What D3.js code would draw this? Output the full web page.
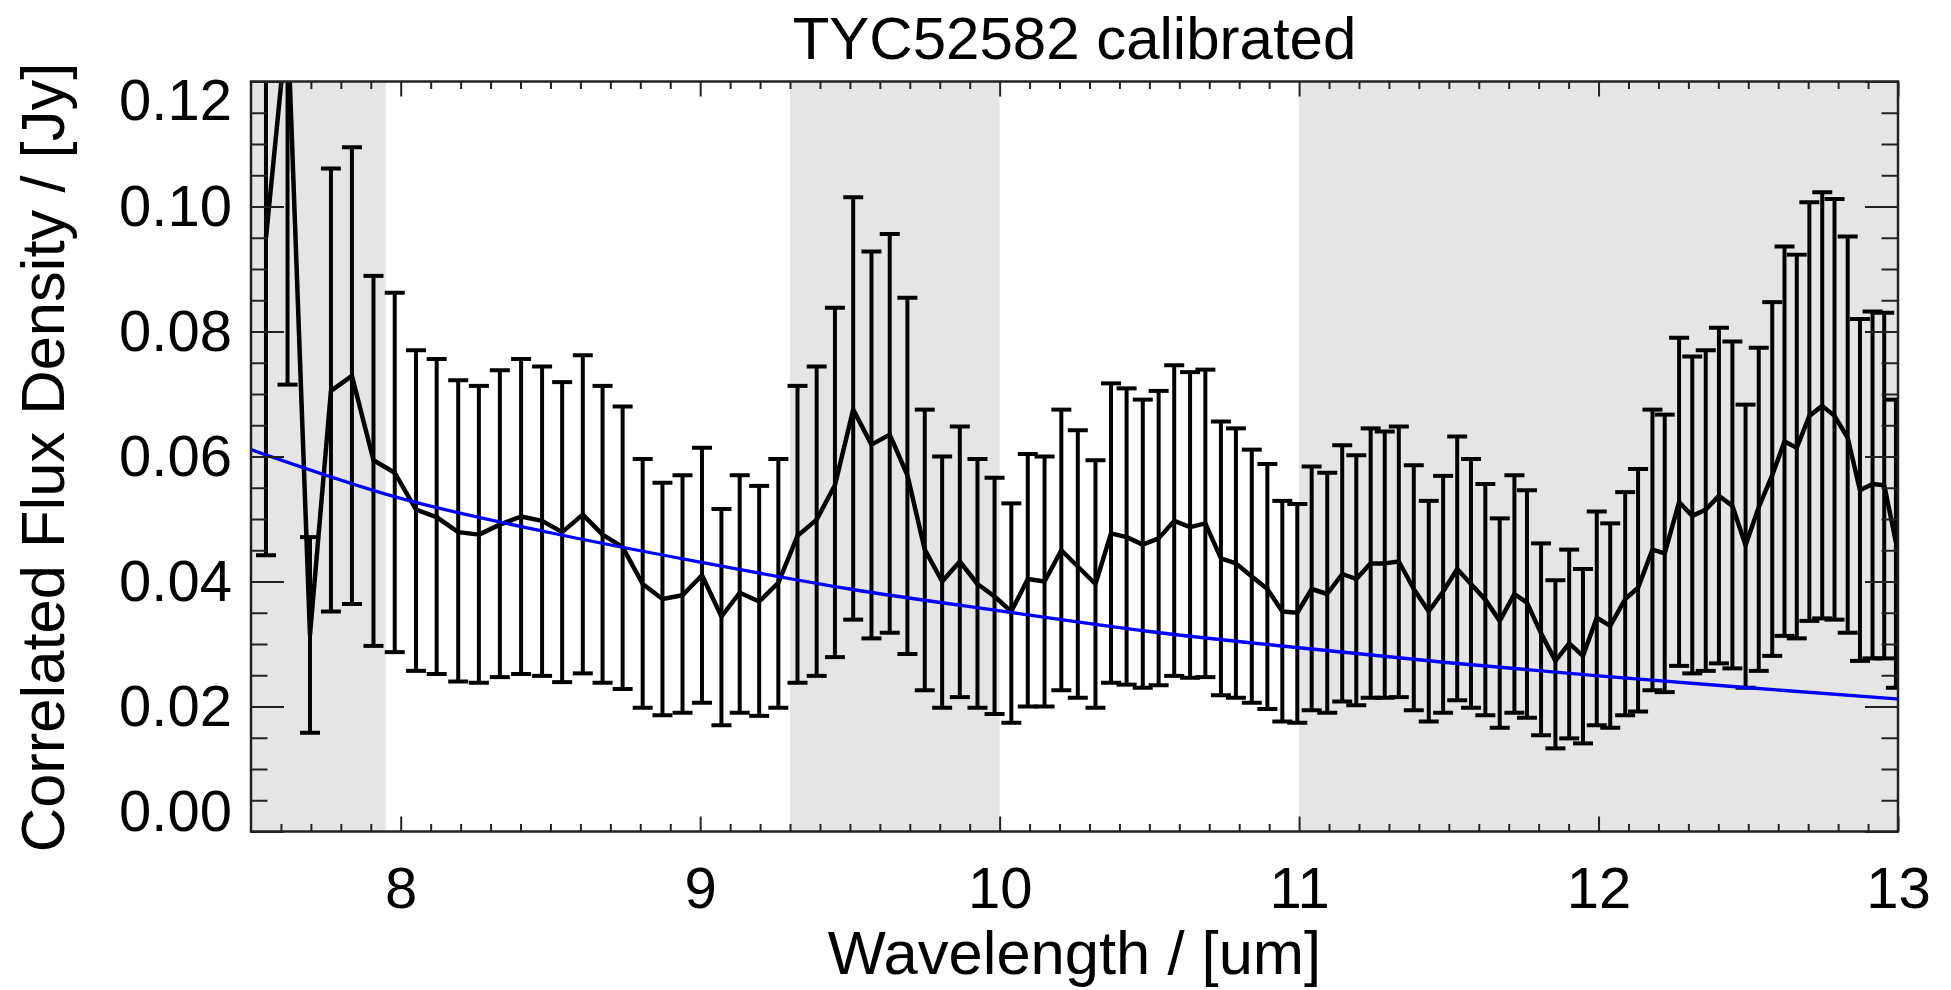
<!DOCTYPE html>
<html>
<head>
<meta charset="utf-8">
<script src="https://cdn.jsdelivr.net/npm/d3@7"></script>
<style>
  html, body { margin: 0; padding: 0; background: #fff; overflow: hidden; }
  svg { display: block; }
  text { font-family: "Liberation Sans", Arial, Helvetica, sans-serif; fill: #000; }
</style>
</head>
<body>
<div id="chart"></div>
<script>
// Spectrum values (wavelength in um, flux in Jy)
const wavelength = [7.550, 7.622, 7.697, 7.767, 7.837, 7.909, 7.980, 8.051, 8.120, 8.192,
  8.261, 8.331, 8.402, 8.472, 8.539, 8.608, 8.674, 8.741, 8.808, 8.874,
  8.941, 9.006, 9.071, 9.132, 9.197, 9.261, 9.325, 9.389, 9.450, 9.511,
  9.572, 9.633, 9.692, 9.750, 9.808, 9.867, 9.926, 9.983, 10.039, 10.094,
  10.150, 10.206, 10.261, 10.320, 10.372, 10.424, 10.478, 10.531, 10.583, 10.636,
  10.687, 10.739, 10.789, 10.842, 10.894, 10.944, 10.994, 11.042, 11.094, 11.144,
  11.191, 11.239, 11.286, 11.333, 11.383, 11.433, 11.481, 11.528, 11.574, 11.622,
  11.670, 11.719, 11.761, 11.808, 11.856, 11.902, 11.948, 11.994, 12.039, 12.089,
  12.132, 12.180, 12.221, 12.269, 12.313, 12.358, 12.402, 12.447, 12.491, 12.535,
  12.580, 12.621, 12.662, 12.704, 12.747, 12.788, 12.832, 12.873, 12.915, 12.954, 12.993];

const flux = [0.0950, 0.1300, 0.0315, 0.0705, 0.0729, 0.0594, 0.0574, 0.0515, 0.0503, 0.0479,
  0.0475, 0.0491, 0.0504, 0.0497, 0.0479, 0.0507, 0.0475, 0.0455, 0.0396, 0.0372,
  0.0378, 0.0410, 0.0344, 0.0382, 0.0368, 0.0398, 0.0473, 0.0499, 0.0554, 0.0675,
  0.0619, 0.0635, 0.0570, 0.0451, 0.0400, 0.0432, 0.0396, 0.0376, 0.0352, 0.0404,
  0.0400, 0.0450, 0.0424, 0.0396, 0.0477, 0.0471, 0.0459, 0.0469, 0.0497, 0.0487,
  0.0493, 0.0437, 0.0429, 0.0408, 0.0388, 0.0352, 0.0350, 0.0388, 0.0380, 0.0412,
  0.0404, 0.0429, 0.0429, 0.0432, 0.0388, 0.0352, 0.0384, 0.0420, 0.0396, 0.0371,
  0.0337, 0.0380, 0.0366, 0.0317, 0.0273, 0.0301, 0.0281, 0.0342, 0.0329, 0.0372,
  0.0390, 0.0451, 0.0445, 0.0527, 0.0505, 0.0515, 0.0537, 0.0521, 0.0458, 0.0519,
  0.0570, 0.0624, 0.0614, 0.0665, 0.0681, 0.0665, 0.0630, 0.0546, 0.0556, 0.0554, 0.0463];

const fluxLow = [0.0442, 0.0715, 0.0158, 0.0352, 0.0364, 0.0297, 0.0287, 0.0257, 0.0252, 0.0240,
  0.0238, 0.0247, 0.0252, 0.0249, 0.0239, 0.0253, 0.0238, 0.0228, 0.0198, 0.0186,
  0.0190, 0.0206, 0.0170, 0.0190, 0.0185, 0.0198, 0.0238, 0.0249, 0.0279, 0.0339,
  0.0309, 0.0318, 0.0284, 0.0226, 0.0198, 0.0215, 0.0198, 0.0188, 0.0174, 0.0200,
  0.0200, 0.0226, 0.0214, 0.0198, 0.0238, 0.0235, 0.0230, 0.0234, 0.0249, 0.0246,
  0.0247, 0.0218, 0.0214, 0.0206, 0.0196, 0.0176, 0.0174, 0.0194, 0.0190, 0.0208,
  0.0202, 0.0214, 0.0214, 0.0215, 0.0194, 0.0176, 0.0190, 0.0210, 0.0198, 0.0186,
  0.0166, 0.0190, 0.0182, 0.0154, 0.0133, 0.0149, 0.0141, 0.0170, 0.0166, 0.0186,
  0.0192, 0.0226, 0.0223, 0.0265, 0.0253, 0.0257, 0.0269, 0.0261, 0.0230, 0.0257,
  0.0281, 0.0313, 0.0309, 0.0337, 0.0341, 0.0339, 0.0318, 0.0273, 0.0277, 0.0277, 0.0230];

const fluxHigh = [0.1460, 0.1890, 0.0471, 0.1061, 0.1095, 0.0889, 0.0862, 0.0770, 0.0756, 0.0722,
  0.0713, 0.0738, 0.0756, 0.0744, 0.0719, 0.0762, 0.0713, 0.0680, 0.0596, 0.0558,
  0.0570, 0.0614, 0.0516, 0.0570, 0.0553, 0.0596, 0.0713, 0.0744, 0.0838, 0.1015,
  0.0928, 0.0956, 0.0854, 0.0675, 0.0600, 0.0648, 0.0596, 0.0566, 0.0525, 0.0604,
  0.0600, 0.0675, 0.0642, 0.0594, 0.0717, 0.0709, 0.0691, 0.0705, 0.0746, 0.0735,
  0.0739, 0.0656, 0.0645, 0.0611, 0.0588, 0.0529, 0.0524, 0.0584, 0.0574, 0.0618,
  0.0602, 0.0645, 0.0640, 0.0648, 0.0586, 0.0529, 0.0569, 0.0632, 0.0596, 0.0556,
  0.0501, 0.0570, 0.0546, 0.0461, 0.0402, 0.0451, 0.0420, 0.0512, 0.0493, 0.0543,
  0.0580, 0.0675, 0.0667, 0.0790, 0.0760, 0.0770, 0.0806, 0.0784, 0.0683, 0.0774,
  0.0847, 0.0936, 0.0923, 0.1007, 0.1023, 0.1012, 0.0952, 0.0820, 0.0832, 0.0830, 0.0691];

// Blue model curve, read at a few wavelengths
const modelWave = [7.5, 8.0, 8.5, 9.0, 9.5, 10.0, 10.5, 11.0, 11.5, 12.0, 12.5, 13.0];
const modelFlux = [0.0611, 0.0533, 0.0478, 0.0431, 0.0388, 0.0353, 0.0320, 0.0294, 0.0270, 0.0249, 0.0230, 0.0212];

// Grey bands
const shadeStart = [7.5, 9.3, 11.0];
const shadeEnd = [7.95, 10.0, 13.0];

const xTickValues = [8, 9, 10, 11, 12, 13];
const xTickLabels = ["8", "9", "10", "11", "12", "13"];
const yTickValues = [0, 0.02, 0.04, 0.06, 0.08, 0.10, 0.12];
const yTickLabels = ["0.00", "0.02", "0.04", "0.06", "0.08", "0.10", "0.12"];

const data = wavelength.map((w, i) => ({ w, f: flux[i], lo: fluxLow[i], hi: fluxHigh[i] }));
const model = modelWave.map((w, i) => ({ w, f: modelFlux[i] }));

// Layout
const svgW = 1951, svgH = 990;
const margin = { top: 81.5, left: 251 };
const innerWidth = 1647;
const innerHeight = 750;
const fontSize = 58;

const svg = d3.select("#chart").append("svg")
  .attr("width", svgW)
  .attr("height", svgH);

const g = svg.append("g").attr("transform", `translate(${margin.left},${margin.top})`);

const x = d3.scaleLinear().domain([7.5, 13]).range([0, innerWidth]);
const y = d3.scaleLinear().domain([0, 0.12]).range([innerHeight, 0]);

svg.append("defs").append("clipPath").attr("id", "plotclip")
  .append("rect").attr("width", innerWidth).attr("height", innerHeight);

const plot = g.append("g").attr("clip-path", "url(#plotclip)");

// grey bands
plot.selectAll(".band")
  .data(shadeStart.map((s, i) => [s, shadeEnd[i]]))
  .enter().append("rect")
  .attr("class", "band")
  .attr("x", d => x(d[0]))
  .attr("y", 0)
  .attr("width", d => x(d[1]) - x(d[0]))
  .attr("height", innerHeight)
  .attr("fill", "#e5e5e5");

// error bars
const capW = 10;
const bars = plot.append("g")
  .attr("stroke", "#000")
  .attr("stroke-width", 4);

bars.selectAll(".ebar")
  .data(data)
  .enter().append("line")
  .attr("x1", d => x(d.w)).attr("x2", d => x(d.w))
  .attr("y1", d => y(d.lo)).attr("y2", d => y(d.hi));

bars.selectAll(".capLo")
  .data(data)
  .enter().append("line")
  .attr("x1", d => x(d.w) - capW).attr("x2", d => x(d.w) + capW)
  .attr("y1", d => y(d.lo)).attr("y2", d => y(d.lo));

bars.selectAll(".capHi")
  .data(data)
  .enter().append("line")
  .attr("x1", d => x(d.w) - capW).attr("x2", d => x(d.w) + capW)
  .attr("y1", d => y(d.hi)).attr("y2", d => y(d.hi));

// spectrum line
plot.append("path")
  .datum(data)
  .attr("fill", "none")
  .attr("stroke", "#000")
  .attr("stroke-width", 4.5)
  .attr("stroke-linejoin", "round")
  .attr("d", d3.line().x(d => x(d.w)).y(d => y(d.f)));

// model curve
plot.append("path")
  .datum(model)
  .attr("fill", "none")
  .attr("stroke", "#0000ff")
  .attr("stroke-width", 3.3)
  .attr("d", d3.line().curve(d3.curveMonotoneX).x(d => x(d.w)).y(d => y(d.f)));

// Axes (IDL style: ticks inside, on all four sides)
const xMinor = d3.range(76, 130).filter(v => v % 10 !== 0).map(v => v / 10);
const yMinor = d3.range(1, 24).filter(v => v % 4 !== 0).map(v => v * 0.005);

function styleAxis(sel) {
  sel.select(".domain").remove();
  sel.selectAll("line").attr("stroke", "#222").attr("stroke-width", 2);
  sel.selectAll("text").style("font-size", fontSize + "px").attr("fill", "#000")
    .style("font-family", '"Liberation Sans", Arial, sans-serif');
}
function noLabels(sel) {
  sel.selectAll("text").remove();
}

// bottom
g.append("g").attr("transform", `translate(0,${innerHeight})`)
  .call(d3.axisBottom(x).tickValues(xTickValues).tickSize(-15).tickPadding(35)
    .tickFormat((d, i) => xTickLabels[i]))
  .call(styleAxis);
g.append("g").attr("transform", `translate(0,${innerHeight})`)
  .call(d3.axisBottom(x).tickValues(xMinor).tickSize(-7.5))
  .call(styleAxis).call(noLabels);
// top
g.append("g")
  .call(d3.axisTop(x).tickValues(xTickValues).tickSize(-15))
  .call(styleAxis).call(noLabels);
g.append("g")
  .call(d3.axisTop(x).tickValues(xMinor).tickSize(-7.5))
  .call(styleAxis).call(noLabels);
// left
g.append("g")
  .call(d3.axisLeft(y).tickValues(yTickValues).tickSize(-33).tickPadding(19)
    .tickFormat((d, i) => yTickLabels[i]))
  .call(styleAxis)
  .call(a => a.selectAll("text")
    .attr("dy", (d, i) => i === 0 ? "-0.02em" : (i === yTickValues.length - 1 ? "0.65em" : "0.32em")));
g.append("g")
  .call(d3.axisLeft(y).tickValues(yMinor).tickSize(-16.5))
  .call(styleAxis).call(noLabels);
// right
g.append("g").attr("transform", `translate(${innerWidth},0)`)
  .call(d3.axisRight(y).tickValues(yTickValues).tickSize(-33))
  .call(styleAxis).call(noLabels);
g.append("g").attr("transform", `translate(${innerWidth},0)`)
  .call(d3.axisRight(y).tickValues(yMinor).tickSize(-16.5))
  .call(styleAxis).call(noLabels);

// frame
g.append("rect")
  .attr("width", innerWidth)
  .attr("height", innerHeight)
  .attr("fill", "none")
  .attr("stroke", "#222")
  .attr("stroke-width", 2.5);

// Titles
svg.append("text")
  .attr("x", margin.left + innerWidth / 2)
  .attr("y", 59)
  .attr("text-anchor", "middle")
  .style("font-size", "60px")
  .text("TYC52582 calibrated");

svg.append("text")
  .attr("x", margin.left + innerWidth / 2)
  .attr("y", 974)
  .attr("text-anchor", "middle")
  .style("font-size", "61.5px")
  .text("Wavelength / [um]");

svg.append("text")
  .attr("transform", `translate(64,${margin.top + innerHeight / 2 + 1}) rotate(-90)`)
  .attr("text-anchor", "middle")
  .style("font-size", "61.5px")
  .text("Correlated Flux Density / [Jy]");
</script>
</body>
</html>
